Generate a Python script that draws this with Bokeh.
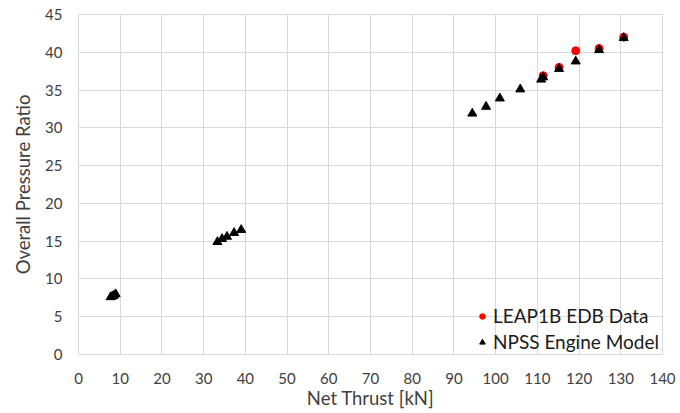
from bokeh.plotting import figure
from bokeh.models import Range1d, FixedTicker, Legend, LegendItem
from bokeh.embed import file_html
from bokeh.resources import INLINE

# Net thrust [kN] and overall pressure ratio
edb_thrust = [111.4, 115.2, 119.2, 124.8, 130.7]
edb_opr = [36.9, 38.0, 40.2, 40.5, 42.0]

npss_thrust = [7.7, 8.1, 8.5, 8.9,
               33.3, 34.4, 35.6, 37.3, 39.0,
               94.4, 97.7, 101.0, 105.9, 110.9, 111.4, 115.2, 119.2, 124.8, 130.7]
npss_opr = [7.6, 7.7, 7.8, 8.0,
            14.9, 15.3, 15.6, 16.1, 16.5,
            31.9, 32.8, 33.9, 35.1, 36.4, 36.7, 37.8, 38.8, 40.3, 41.9]

x_ticks = list(range(0, 141, 10))
y_ticks = list(range(0, 46, 5))

FONT = "Lato"
TEXT = "#404040"
GRID = "#d9d9d9"

p = figure(width=680, height=413, output_backend="svg", toolbar_location=None,
           x_range=Range1d(0, 140), y_range=Range1d(0, 45),
           min_border_left=78, min_border_right=18,
           min_border_top=14, min_border_bottom=59)

p.background_fill_color = "white"
p.border_fill_color = "white"
p.outline_line_color = GRID
p.outline_line_width = 1

for ax, ticks in ((p.xaxis[0], x_ticks), (p.yaxis[0], y_ticks)):
    ax.ticker = FixedTicker(ticks=ticks)
    ax.axis_line_color = None
    ax.major_tick_line_color = None
    ax.minor_tick_line_color = None
    ax.major_label_text_font = FONT
    ax.major_label_text_font_size = "15px"
    ax.major_label_text_color = TEXT
    ax.axis_label_text_font = FONT
    ax.axis_label_text_font_size = "18.5px"
    ax.axis_label_text_font_style = "normal"
    ax.axis_label_text_color = TEXT

p.xaxis.axis_label = "Net Thrust [kN]"
p.yaxis.axis_label = "Overall Pressure Ratio"
p.xaxis.major_label_standoff = 12
p.yaxis.major_label_standoff = 10
p.xaxis.axis_label_standoff = 0
p.yaxis.axis_label_standoff = 8

p.xgrid.ticker = FixedTicker(ticks=x_ticks)
p.ygrid.ticker = FixedTicker(ticks=y_ticks)
p.grid.grid_line_color = GRID
p.grid.grid_line_width = 1

edb = p.scatter(edb_thrust, edb_opr, marker="circle", size=8,
                fill_color="#ff0000", line_color="#ff0000")
npss = p.scatter(npss_thrust, npss_opr, marker="triangle", size=9,
                 fill_color="black", line_color="black")

legend = Legend(items=[LegendItem(label="LEAP1B EDB Data", renderers=[edb]),
                       LegendItem(label="NPSS Engine Model", renderers=[npss])],
                location=(397, 1), padding=0, margin=0, spacing=3,
                glyph_width=14, glyph_height=20, label_height=20,
                label_standoff=4,
                label_text_font=FONT, label_text_font_size="19px",
                label_text_color="#1a1a1a",
                background_fill_alpha=0, border_line_color=None)
p.add_layout(legend, "center")

open("out.html", "w").write(file_html(p, INLINE))
